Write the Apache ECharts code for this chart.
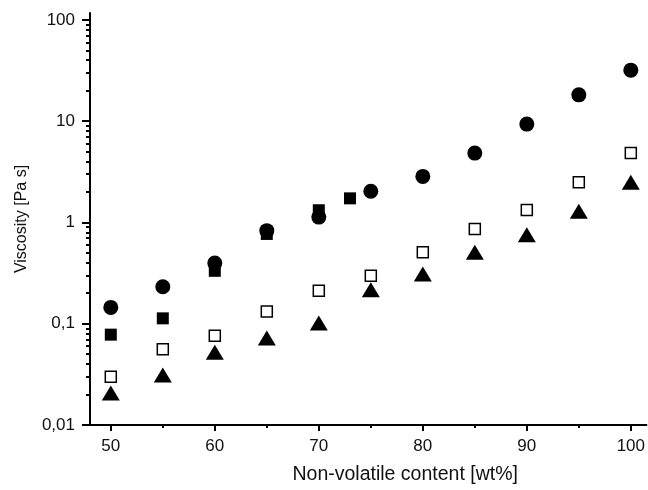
<!DOCTYPE html>
<html>
<head>
<meta charset="utf-8">
<script src="https://cdn.jsdelivr.net/npm/echarts@6/dist/echarts.min.js"></script>
<style>
  html, body { margin: 0; padding: 0; background: #fff; }
  #main { width: 648px; height: 490px; }
</style>
</head>
<body>
<div id="main"></div>
<script>
// non-volatile content [wt%] and viscosity [Pa s]
var circleData = [[50, 0.145], [55, 0.232], [60, 0.397], [65, 0.83], [70, 1.13], [75, 2.03],
  [80, 2.85], [85, 4.84], [90, 9.36], [95, 18.2], [100, 31.9]];
var squareData = [[50, 0.078], [55, 0.113], [60, 0.333], [65, 0.77], [70, 1.32], [73, 1.73]];
var openSquareData = [[50, 0.030], [55, 0.056], [60, 0.076], [65, 0.132], [70, 0.212], [75, 0.298],
  [80, 0.507], [85, 0.861], [90, 1.33], [95, 2.49], [100, 4.84]];
var triangleData = [[50, 0.0207], [55, 0.0312], [60, 0.0523], [65, 0.0723], [70, 0.1017], [75, 0.217],
  [80, 0.31], [85, 0.507], [90, 0.757], [95, 1.29], [100, 2.49]];

var xMajor = [50, 60, 70, 80, 90, 100];
var xMinor = [55, 65, 75, 85, 95];
var yMajor = [0.01, 0.1, 1, 10, 100];
var yMinor = [];
[0.01, 0.1, 1, 10].forEach(function (d) {
  for (var k = 2; k <= 9; k++) yMinor.push(+(d * k).toPrecision(3));
});

var chart = echarts.init(document.getElementById('main'));
var font = 'Liberation Sans';

var option = {
  backgroundColor: '#fff',
  animation: false,
  grid: { left: 90, right: 0, top: 13, bottom: 63 },
  xAxis: [{
    type: 'value',
    min: 48,
    max: 101.5,
    name: 'Non-volatile content [wt%]',
    nameLocation: 'middle',
    nameGap: 40,
    // title sits right of the axis middle in the original
    nameTextStyle: { fontFamily: font, fontSize: 19.5, color: '#111', padding: [0, 0, 0, 74] },
    axisLine: { onZero: false, lineStyle: { color: '#000', width: 2 } },
    axisTick: { customValues: xMajor, length: 6, lineStyle: { color: '#000', width: 2 } },
    axisLabel: { customValues: xMajor, margin: 13, fontFamily: font, fontSize: 17, color: '#111' },
    splitLine: { show: false }
  }, {
    type: 'value',
    min: 48,
    max: 101.5,
    position: 'bottom',
    axisLine: { show: false, onZero: false },
    axisTick: { customValues: xMinor, length: 3, lineStyle: { color: '#000', width: 2 } },
    axisLabel: { show: false },
    splitLine: { show: false }
  }],
  yAxis: [{
    type: 'log',
    logBase: 10,
    min: 0.01,
    max: 117,
    name: 'Viscosity [Pa s]',
    nameLocation: 'middle',
    nameGap: 60,
    nameTextStyle: { fontFamily: font, fontSize: 16, color: '#111' },
    axisLine: { onZero: false, lineStyle: { color: '#000', width: 2 } },
    axisTick: { customValues: yMajor, length: 8, lineStyle: { color: '#000', width: 2 } },
    axisLabel: {
      customValues: yMajor,
      margin: 15,
      fontFamily: font,
      fontSize: 17,
      color: '#111',
      formatter: function (v) { return String(+v.toPrecision(3)).replace('.', ','); }
    },
    splitLine: { show: false }
  }, {
    type: 'log',
    logBase: 10,
    min: 0.01,
    max: 117,
    position: 'left',
    axisLine: { show: false, onZero: false },
    axisTick: { customValues: yMinor, length: 4, lineStyle: { color: '#000', width: 2 } },
    axisLabel: { show: false },
    splitLine: { show: false }
  }],
  series: [{
    type: 'scatter',
    data: circleData,
    symbol: 'circle',
    symbolSize: 15,
    itemStyle: { color: '#000', opacity: 1 }
  }, {
    type: 'scatter',
    data: squareData,
    symbol: 'rect',
    symbolSize: 12,
    itemStyle: { color: '#000', opacity: 1 }
  }, {
    type: 'scatter',
    data: openSquareData,
    symbol: 'rect',
    symbolSize: 11,
    itemStyle: { color: '#fff', borderColor: '#000', borderWidth: 1.5, opacity: 1 }
  }, {
    type: 'scatter',
    data: triangleData,
    symbol: 'triangle',
    symbolSize: [18, 15],
    itemStyle: { color: '#000', opacity: 1 }
  }]
};

chart.setOption(option);
</script>
</body>
</html>
